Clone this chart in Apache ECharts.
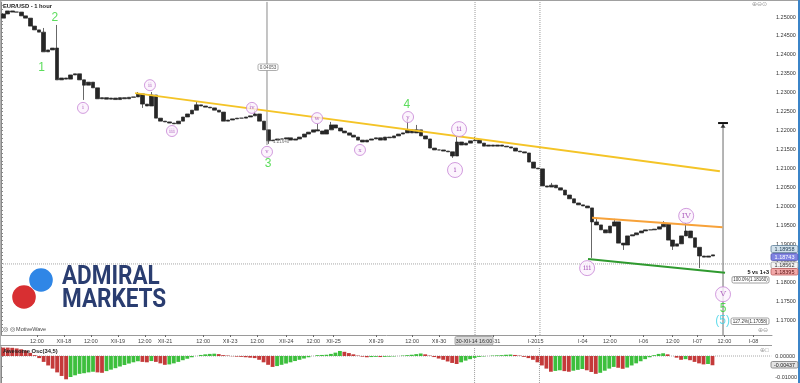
<!DOCTYPE html>
<html><head><meta charset="utf-8">
<script src="https://cdn.jsdelivr.net/npm/echarts@6/dist/echarts.min.js"></script>
<style>html,body{margin:0;padding:0;background:#fff}#c{width:800px;height:383px}</style>
</head><body><div id="c"></div>
<script>
// ---- data ----
const barStartHour = 1, barStepHours = 2;   // each candle = 2 hours, x axis in hours
const firstOpen = 1.2497;
const closes = [
 1.2508,1.2516,1.2513,1.2513,1.2503,1.2497,1.2476,1.2466,1.2460,1.2408,
 1.2413,1.2418,1.2334,1.2339,1.2336,1.2347,1.2350,1.2334,1.2320,1.2328,
 1.2313,1.2284,1.2287,1.2283,1.2286,1.2282,1.2287,1.2284,1.2288,1.2289,
 1.2297,1.2270,1.2265,1.2294,1.2233,1.2225,1.2223,1.2220,1.2218,1.2225,
 1.2236,1.2244,1.2254,1.2268,1.2265,1.2262,1.2260,1.2254,1.2249,1.2225,
 1.2228,1.2231,1.2233,1.2233,1.2236,1.2239,1.2244,1.2225,1.2202,1.2173,
 1.2175,1.2178,1.2178,1.2181,1.2175,1.2178,1.2183,1.2191,1.2196,1.2202,
 1.2199,1.2191,1.2202,1.2215,1.2207,1.2199,1.2194,1.2188,1.2183,1.2175,
 1.2170,1.2175,1.2178,1.2181,1.2175,1.2183,1.2181,1.2186,1.2191,1.2194,
 1.2202,1.2194,1.2202,1.2186,1.2178,1.2154,1.2149,1.2149,1.2146,1.2144,
 1.2133,1.2170,1.2162,1.2167,1.2173,1.2175,1.2167,1.2159,1.2162,1.2159,
 1.2162,1.2159,1.2157,1.2154,1.2146,1.2144,1.2141,1.2117,1.2101,1.2099,
 1.2054,1.2051,1.2056,1.2049,1.2043,1.2030,1.2020,1.2009,1.2004,1.2001,
 1.1996,1.1959,1.1951,1.1938,1.1930,1.1948,1.1959,1.1903,1.1898,1.1922,
 1.1925,1.1930,1.1935,1.1938,1.1938,1.1940,1.1946,1.1953,1.1911,1.1895,
 1.1901,1.1922,1.1935,1.1917,1.1892,1.1869,1.1866,1.1869,1.1872
];
const wickHighIdx = [9,12,30,33,43,56,70,73,90,92,101,105,122,131,132,136,147,152];
const wickHighVal = [1.2471,1.2479,1.2302,1.2302,1.2276,1.2254,1.2218,1.2223,1.2231,1.2215,1.2186,1.2183,1.2062,1.1969,1.1969,1.1967,1.1961,1.1956];
const wickLowIdx = [18,31,59,100,131,138,149,155];
const wickLowVal = [1.2281,1.2260,1.2165,1.2128,1.1864,1.1885,1.1885,1.1837];

const aoValues = [
 0.0040,0.0040,0.0039,0.0036,0.0032,0.0026,0.0015,0.0004,-0.0010,-0.0028,
 -0.0045,-0.0060,-0.0078,-0.0095,-0.0111,-0.0100,-0.0092,-0.0085,-0.0082,-0.0078,
 -0.0075,-0.0078,-0.0080,-0.0072,-0.0065,-0.0058,-0.0050,-0.0043,-0.0036,-0.0030,
 -0.0025,-0.0028,-0.0030,-0.0024,-0.0028,-0.0035,-0.0042,-0.0040,-0.0035,-0.0028,
 -0.0020,-0.0013,-0.0006,0.0000,0.0005,0.0008,0.0010,0.0011,0.0009,0.0004,
 0.0002,-0.0001,-0.0003,-0.0004,-0.0006,-0.0008,-0.0010,-0.0018,-0.0030,-0.0042,
 -0.0052,-0.0048,-0.0042,-0.0036,-0.0030,-0.0024,-0.0018,-0.0012,-0.0006,0.0000,
 0.0004,0.0005,0.0006,0.0010,0.0016,0.0024,0.0020,0.0014,0.0008,0.0002,
 -0.0003,-0.0006,-0.0005,-0.0004,-0.0005,-0.0004,-0.0003,-0.0002,0.0000,0.0002,
 0.0004,0.0006,0.0009,0.0012,0.0008,0.0002,-0.0005,-0.0012,-0.0018,-0.0026,
 -0.0033,-0.0038,-0.0030,-0.0022,-0.0015,-0.0009,-0.0004,-0.0002,0.0000,0.0002,
 0.0003,0.0004,0.0006,0.0007,0.0005,0.0002,-0.0004,-0.0010,-0.0018,-0.0030,
 -0.0045,-0.0060,-0.0075,-0.0071,-0.0068,-0.0072,-0.0075,-0.0070,-0.0066,-0.0062,
 -0.0068,-0.0076,-0.0085,-0.0080,-0.0070,-0.0060,-0.0052,-0.0056,-0.0061,-0.0055,
 -0.0045,-0.0035,-0.0025,-0.0015,-0.0006,0.0004,0.0010,0.0013,0.0008,0.0000,
 -0.0008,-0.0018,-0.0015,-0.0020,-0.0028,-0.0035,-0.0040,-0.0038,-0.0044
];

const xTickHours  = [16,28,40,52,64,73,90,102,114,127,139,148,167,183,195,219,238,259,271,286,299,310,322,335];
const xTickLabels = ['12:00','XII-18','12:00','XII-19','12:00','XII-21','12:00','XII-23','12:00','XII-24','12:00','XII-25','XII-29','12:00','XII-30','XII-31','I-2015','I-04','12:00','I-06','12:00','I-07','12:00','I-08'];
const priceTicks = [1.17,1.175,1.18,1.185,1.19,1.195,1.2,1.205,1.21,1.215,1.22,1.225,1.23,1.235,1.24,1.245,1.25];
const aoTicks = [0,-0.01];

// trend lines [hour, price]
const yellowLine = [[59.7,1.2299],[320.0,1.2093]];
const orangeLine = [[263.1,1.1970],[321.2,1.1945]];
const greenLine  = [[261.3,1.1861],[322.3,1.1825]];
const measureA = [[118.4,1.2540],[118.4,1.2162]];
const measureB = [[321.4,1.2220],[321.4,1.1660]];
const measureBCap = [[319.2,1.2220],[323.6,1.2220]];
const crossHour = 211, crossPrice = 1.1848, yearHour = 239.9;

// wave labels
const waveNumText  = ['1','2','3','4','5'];
const waveNumHour  = [18.1,24.0,118.9,180.6,321.4];
const waveNumPrice = [1.2365,1.2497,1.2114,1.2268,1.1731];
const minorText  = ['i','ii','iii','iv','v','w','x','y'];
const minorHour  = [36.5,66.3,76.1,111.7,118.4,140.7,159.8,181.2];
const minorPrice = [1.2260,1.2320,1.2199,1.2260,1.2144,1.2233,1.2149,1.2236];
const majorText  = ['i','ii','iii','IV','V'];
const majorHour  = [202.1,203.9,260.9,305.0,321.4];
const majorPrice = [1.2096,1.2204,1.1837,1.1975,1.1768];
const cyanText = '(5)', cyanHour = 321.2, cyanPrice = 1.1698;

// ---- build ----
const RED = '#c43a3a', GREEN = '#3dbf3d';
const candleData = closes.map((c,i)=>{
  const o = i ? closes[i-1] : firstOpen;
  let h = Math.max(o,c), l = Math.min(o,c);
  const hi = wickHighIdx.indexOf(i); if (hi >= 0) h = Math.max(h, wickHighVal[hi]);
  const lo = wickLowIdx.indexOf(i);  if (lo >= 0) l = Math.min(l, wickLowVal[lo]);
  return [barStartHour + barStepHours*i, o, c, l, h];
});
const aoData = aoValues.map((v,i)=>({
  value:[barStartHour + barStepHours*i, v],
  itemStyle:{color: (i>0 && v>aoValues[i-1]) ? GREEN : RED}
}));
const minorTicks = []; for (let k=1167;k<=1253;k++) minorTicks.push(k/1000);

const FONT = 'Liberation Sans';
const CLEAR = 'rgba(0,0,0,0)';
function lineS(data, color, width, type, xi, yi, z){
  return {type:'line', xAxisIndex:xi||0, yAxisIndex:yi||0, data:data, symbol:'none', silent:true,
          lineStyle:{color:color, width:width, type:type||'solid'}, z:z||4, animation:false};
}
function txt(x,y,text,fs,color,opts){
  opts = opts||{};
  return {type:'text', x:x, y:y, z:60, silent:true, style:{text:text, fontSize:fs, fill:color,
    fontFamily:opts.family||FONT, fontWeight:opts.bold?'bold':'normal',
    align:opts.align||'left', textAlign:opts.align||'left', verticalAlign:'middle', textVerticalAlign:'middle'}};
}
function box(x,y,w,h,text,fill,stroke,color,fs,bold){
  return {type:'group', z:55, children:[
    {type:'rect', z:55, shape:{x:x,y:y,width:w,height:h,r:1.5}, style:{fill:fill,stroke:stroke,lineWidth:0.8}},
    {type:'text', z:56, x:x+w/2, y:y+h/2+0.3, style:{text:text, fill:color, fontSize:fs, fontFamily:FONT,
      fontWeight:bold?'bold':'normal', align:'center', textAlign:'center', verticalAlign:'middle', textVerticalAlign:'middle'}}
  ]};
}

const X_MAX = 343.2;
const option = {
  animation:false,
  backgroundColor:'#ffffff',
  grid:[
    {left:1, right:28, top:2, bottom:48},
    {left:1, right:28, top:347, bottom:0}
  ],
  xAxis:[
    {type:'value', gridIndex:0, min:0, max:X_MAX, position:'bottom',
     axisLine:{show:true, lineStyle:{color:'#9a9a9a', width:1}},
     axisTick:{show:true, customValues:xTickHours, length:2, lineStyle:{color:'#666'}},
     axisLabel:{show:true, customValues:xTickHours, formatter:(v)=>{const k=xTickHours.indexOf(v);return k>=0?xTickLabels[k]:'';},
       fontSize:5.5, color:'#444', margin:3, fontFamily:FONT},
     splitLine:{show:false}},
    {type:'value', gridIndex:1, min:0, max:X_MAX, show:false, splitLine:{show:false}}
  ],
  yAxis:[
    {type:'value', gridIndex:0, position:'right', min:1.16604, max:1.25396,
     axisLine:{show:true, lineStyle:{color:'#888'}},
     axisTick:{show:true, customValues:minorTicks, length:2, lineStyle:{color:'#888'}},
     axisLabel:{customValues:priceTicks, formatter:(v)=>v.toFixed(5), fontSize:5.5, color:'#333', margin:4, fontFamily:FONT},
     splitLine:{show:false}},
    {type:'value', gridIndex:1, position:'right', min:-0.01286, max:0.00429,
     axisLine:{show:true, lineStyle:{color:'#888'}},
     axisTick:{show:true, customValues:[0,-0.005,-0.01], length:2, lineStyle:{color:'#888'}},
     axisLabel:{customValues:aoTicks, formatter:(v)=>v.toFixed(5), fontSize:5.5, color:'#333', margin:4, fontFamily:FONT},
     splitLine:{show:false}}
  ],
  series:[
    // crosshair / separators
    lineS([[crossHour,1.16604],[crossHour,1.25396]], '#9a9a9a', 1, 'dotted', 0,0,1),
    lineS([[yearHour,1.16604],[yearHour,1.25396]], '#9a9a9a', 1, 'dotted', 0,0,1),
    lineS([[0,crossPrice],[X_MAX,crossPrice]], '#a8a8a8', 1, 'dotted', 0,0,1),
    lineS([[crossHour,-0.0129],[crossHour,0.0043]], '#9a9a9a', 1, 'dotted', 1,1,1),
    lineS([[yearHour,-0.0129],[yearHour,0.0043]], '#9a9a9a', 1, 'dotted', 1,1,1),
    lineS([[0,0],[X_MAX,0]], '#a8a8a8', 1, 'dotted', 1,1,1),
    // price bars
    {type:'candlestick', xAxisIndex:0, yAxisIndex:0, data:candleData, encode:{x:0, y:[1,2,3,4]},
     barWidth:4.1, z:3,
     itemStyle:{color:'#262626', color0:'#262626', borderColor:'#262626', borderColor0:'#262626', borderWidth:0.7}},
    // trend lines
    lineS(yellowLine, '#f4c427', 2, 'solid', 0,0,5),
    lineS(orangeLine, '#f7a23a', 2, 'solid', 0,0,5),
    lineS(greenLine,  '#2f9a2f', 2, 'solid', 0,0,5),
    // measurement tools
    lineS(measureA, '#8a8a8a', 1, 'solid', 0,0,4),
    lineS(measureB, '#6a6a6a', 1, 'solid', 0,0,4),
    lineS(measureBCap, '#111', 2, 'solid', 0,0,6),
    {type:'scatter', xAxisIndex:0, yAxisIndex:0, data:[[measureBCap[0][0]+2.2, 1.2213]], symbol:'triangle',
     symbolSize:[5,4], itemStyle:{color:'#111'}, z:6, silent:true},
    // wave labels
    {type:'scatter', xAxisIndex:0, yAxisIndex:0, symbol:'circle', symbolSize:11, z:10, silent:true,
     data:minorText.map((t,i)=>({value:[minorHour[i],minorPrice[i]], name:t})),
     itemStyle:{color:'#fbf1fd', borderColor:'#c784d6', borderWidth:1},
     label:{show:true, position:'inside', formatter:(p)=>p.name, fontSize:6, color:'#a24bb6', fontFamily:'DejaVu Serif'}},
    {type:'scatter', xAxisIndex:0, yAxisIndex:0, symbol:'circle', symbolSize:15, z:10, silent:true,
     data:majorText.map((t,i)=>({value:[majorHour[i],majorPrice[i]], name:t})),
     itemStyle:{color:'#fbf1fd', borderColor:'#c784d6', borderWidth:1},
     label:{show:true, position:'inside', formatter:(p)=>p.name, fontSize:8, color:'#a24bb6', fontFamily:'DejaVu Serif'}},
    {type:'scatter', xAxisIndex:0, yAxisIndex:0, symbolSize:2, z:11, silent:true,
     data:waveNumText.map((t,i)=>({value:[waveNumHour[i],waveNumPrice[i]], name:t})),
     itemStyle:{color:CLEAR},
     label:{show:true, position:'inside', formatter:(p)=>p.name, fontSize:12, color:'#33d433', textBorderWidth:0, fontFamily:FONT}},
    {type:'scatter', xAxisIndex:0, yAxisIndex:0, symbolSize:2, z:11, silent:true,
     data:[{value:[cyanHour,cyanPrice], name:cyanText}], itemStyle:{color:CLEAR},
     label:{show:true, position:'inside', formatter:(p)=>p.name, fontSize:12, color:'#3fd3e6', textBorderWidth:0, fontFamily:FONT}},
    // oscillator
    {type:'bar', xAxisIndex:1, yAxisIndex:1, data:aoData, barWidth:3.8, z:3, silent:true}
  ],
  graphic:[
    {type:'line', z:40, shape:{x1:0.5,y1:0,x2:0.5,y2:383}, style:{stroke:'#b0b0b0', lineWidth:1}},
    {type:'line', z:40, shape:{x1:0,y1:0.5,x2:800,y2:0.5}, style:{stroke:'#a0a0a0', lineWidth:1}},
    {type:'line', z:40, shape:{x1:0,y1:345.5,x2:772,y2:345.5}, style:{stroke:'#9a9a9a', lineWidth:1}},
    {type:'rect', z:40, shape:{x:798,y:0,width:2,height:383}, style:{fill:'#3b84c8'}},
    // logo
    {type:'circle', z:45, shape:{cx:41,cy:280,r:11.8}, style:{fill:'#2f86e6'}},
    {type:'circle', z:45, shape:{cx:24,cy:297,r:11.8}, style:{fill:'#d82f32'}},
    {type:'text', z:45, x:62, y:278, scaleX:0.9, style:{text:'ADMIRAL', fontSize:25, fontWeight:'bold', fontFamily:'Roboto', fill:'#2a3d70', align:'left', textAlign:'left', verticalAlign:'middle', textVerticalAlign:'middle'}},
    {type:'text', z:45, x:62, y:300.5, scaleX:0.9, style:{text:'MARKETS', fontSize:25, fontWeight:'bold', fontFamily:'Roboto', fill:'#2a3d70', align:'left', textAlign:'left', verticalAlign:'middle', textVerticalAlign:'middle'}},
    // titles / captions
    txt(3, 6, 'EUR/USD - 1 hour', 5.8, '#222', {bold:true}),
    txt(3, 351, 'Awesome Osc(34,5)', 5.8, '#222', {bold:true}),
    txt(3, 329, '\u25CE \u25CE MotiveWave', 5.5, '#444'),
    txt(752, 4.5, '\u2295\u2296\u2299', 6, '#9a9a9a'),
    txt(758, 330, '\u2295\u2296', 6, '#9a9a9a'),
    txt(760, 350, '\u2295\u25A1', 6, '#9a9a9a'),
    txt(769, 272, '5 vs 1+3', 5.5, '#111', {bold:true, align:'right'}),
    txt(273, 141.5, '1.21640', 4.5, '#777'),
    box(258, 64, 20, 6.5, '0.04053', '#ffffff', '#999', '#555', 4.6),
    box(732, 276.5, 37, 6.5, '100.0%(1.18160)', '#ffffff', '#888', '#333', 4.5),
    box(731, 318, 38, 6.5, '127.2%(1.17058)', '#ffffff', '#888', '#333', 4.5),
    box(455, 336.5, 38, 8.5, '30-XII-14 16:00', '#d9d9d9', '#999', '#333', 5.3),
    // right price-axis markers
    box(771, 245.5, 27, 7, '1.18958', '#d3e2ec', '#5d7f99', '#1d3a52', 5.5),
    box(771, 253.5, 27, 7, '1.18743', '#7f83e2', '#5558b0', '#ffffff', 5.5),
    box(771, 262, 27, 6.5, '1.18562', '#f4f4f4', '#999', '#333', 5.5),
    box(771, 268.5, 27, 6.5, '1.18395', '#f2a9a9', '#c06060', '#5a1010', 5.5),
    box(771, 361.5, 27, 6.5, '-0.00437', '#e4e4e4', '#777', '#222', 5.3)
  ]
};
const chart = echarts.init(document.getElementById('c'));
chart.setOption(option);
</script>
</body></html>
